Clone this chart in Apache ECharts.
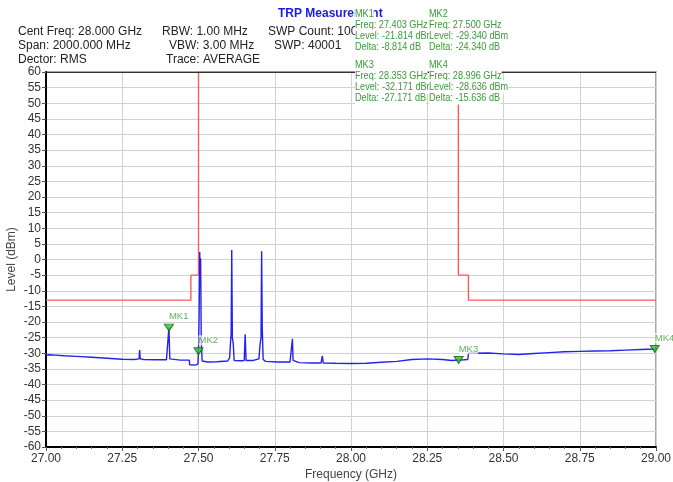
<!DOCTYPE html>
<html>
<head>
<meta charset="utf-8">
<script src="https://cdn.jsdelivr.net/npm/echarts@6/dist/echarts.min.js"></script>
<style>
  html, body { margin: 0; padding: 0; background: #fff; }
  #chart { width: 673px; height: 482px; }
</style>
</head>
<body>
<div id="chart"></div>
<script>
// Averaged spectrum trace (frequency in GHz, level in dBm)
const traceFreq = [
  27.000, 27.005, 27.010, 27.030, 27.060, 27.100, 27.150, 27.200, 27.250, 27.290,
  27.305, 27.307, 27.309, 27.320, 27.360, 27.395, 27.400, 27.403, 27.406, 27.410,
  27.440, 27.470, 27.471, 27.490, 27.498, 27.500, 27.502, 27.504, 27.506, 27.507,
  27.509, 27.512, 27.530, 27.560, 27.595, 27.602, 27.605, 27.607, 27.609, 27.611,
  27.614, 27.617, 27.640, 27.650, 27.653, 27.656, 27.680, 27.698, 27.702, 27.705,
  27.707, 27.709, 27.712, 27.720, 27.760, 27.800, 27.806, 27.808, 27.810, 27.830,
  27.870, 27.902, 27.906, 27.909, 27.950, 28.000, 28.050, 28.100, 28.150, 28.200,
  28.250, 28.300, 28.330, 28.353, 28.370, 28.383, 28.385, 28.400, 28.450, 28.500,
  28.550, 28.600, 28.650, 28.700, 28.750, 28.800, 28.850, 28.900, 28.950, 28.996,
  29.000
];
const traceLevel = [
  -30.6, -30.2, -30.5, -30.6, -30.8, -31.0, -31.3, -31.6, -31.9, -32.0,
  -31.8, -29.0, -31.8, -32.0, -32.1, -32.1, -31.5, -21.814, -31.8, -32.1,
  -32.2, -32.2, -33.7, -33.8, -33.5, -29.34, -18.0, 2.4, -8.0, 0.4,
  -26.0, -32.5, -32.8, -32.7, -32.5, -31.5, -26.5, -24.0, 3.0, -25.0,
  -27.0, -32.3, -32.4, -32.3, -23.9, -32.3, -32.3, -31.8, -27.0, -25.0,
  2.6, -22.0, -32.0, -32.6, -32.8, -32.8, -32.3, -25.4, -32.3, -33.0,
  -33.1, -33.1, -30.8, -33.1, -33.2, -33.3, -33.2, -32.9, -32.6, -32.0,
  -31.8, -32.0, -32.3, -32.171, -32.1, -32.0, -30.0, -30.0, -29.9, -30.2,
  -30.4, -30.1, -29.8, -29.5, -29.4, -29.3, -29.2, -29.0, -28.8, -28.636,
  -28.6
];

// Emission limit mask (GHz, dBm)
const limitFreq  = [27.000, 27.475, 27.475, 27.500, 27.500, 28.352, 28.352, 28.385, 28.385, 29.000];
const limitLevel = [-13, -13, -5, -5, 60, 60, -5, -5, -13, -13];

// Markers
const markerNames  = ['MK1', 'MK2', 'MK3', 'MK4'];
const markerFreqs  = [27.403, 27.500, 28.353, 28.996];
const markerLevels = [-21.814, -29.340, -32.171, -28.636];
const markerDeltas = [-8.814, -24.340, -27.171, -15.636];

// Instrument settings shown in the header
const settingLines = [
  'Cent Freq: 28.000 GHz', 'Span: 2000.000 MHz', 'Dector: RMS',
  'RBW: 1.00 MHz', 'VBW: 3.00 MHz', 'Trace: AVERAGE',
  'SWP Count: 100', 'SWP: 40001'
];

const chartTitle = 'TRP Measurement';
const xTitle = 'Frequency (GHz)';
const yTitle = 'Level (dBm)';

const FONT = '"Liberation Sans", Arial, sans-serif';
const chart = echarts.init(document.getElementById('chart'), null, { renderer: 'canvas' });

const zip = (a, b) => a.map((v, i) => [v, b[i]]);

// Plot frame
const PLOT = { left: 46, right: 656, top: 72, bottom: 447 };

// Header: settings in three columns
const settingPos = [
  [18, 32], [18, 46], [18, 60],
  [162, 32], [169, 46], [166, 60],
  [268, 32], [274, 46]
];
const graphics = [];
settingLines.forEach((t, i) => {
  graphics.push({
    type: 'text', x: settingPos[i][0], y: settingPos[i][1], z: 10,
    style: { text: t, font: '12px ' + FONT, fill: '#222', verticalAlign: 'middle' }
  });
});
graphics.push({
  type: 'text', x: 278, y: 14, z: 11,
  style: { text: chartTitle, font: 'bold 12px ' + FONT, fill: '#1a1ae6', verticalAlign: 'middle' }
});
// top edge of the plot frame, kept above the mask line
graphics.push({
  type: 'line', z: 15,
  shape: { x1: PLOT.left, y1: PLOT.top + 0.5, x2: PLOT.right, y2: PLOT.top + 0.5 },
  style: { stroke: '#333', lineWidth: 1.2 }
});

// Marker readout block (white-backed, horizontally condensed text over the plot)
const colX = [355, 429];
const groupY = [14, 65];
const lineStep = 11;
markerNames.forEach((name, i) => {
  const cx = colX[i % 2];
  const gy = groupY[Math.floor(i / 2)];
  const lines = [
    name,
    'Freq: ' + markerFreqs[i].toFixed(3) + ' GHz',
    'Level: ' + markerLevels[i].toFixed(3) + ' dBm',
    'Delta: ' + markerDeltas[i].toFixed(3) + ' dB'
  ];
  lines.forEach((t, k) => {
    graphics.push({
      type: 'text', x: cx, y: gy + k * lineStep, z: 20 + (i % 2),
      scaleX: 0.87,
      style: {
        text: t, font: '10.5px ' + FONT, fill: '#3a9b3a', verticalAlign: 'middle',
        backgroundColor: '#ffffff', padding: [1, 0, 1, 0]
      }
    });
  });
});

chart.setOption({
  animation: false,
  backgroundColor: '#ffffff',
  grid: {
    left: PLOT.left, right: 673 - PLOT.right, top: PLOT.top, bottom: 482 - PLOT.bottom,
    outerBoundsMode: 'none', containLabel: false,
    show: true, borderColor: '#8a8a8a', borderWidth: 1.5
  },
  xAxis: {
    type: 'value', min: 27, max: 29, interval: 0.25,
    name: xTitle, nameLocation: 'middle', nameGap: 22, nameMoveOverlap: false,
    nameTextStyle: { fontFamily: FONT, fontSize: 12, color: '#444' },
    axisLine: { show: true, onZero: false, lineStyle: { color: '#000', width: 2 } },
    axisTick: { show: true, length: 4, lineStyle: { color: '#555' } },
    minorTick: { show: true, splitNumber: 5, length: 2, lineStyle: { color: '#777' } },
    axisLabel: { fontFamily: FONT, fontSize: 12, color: '#333', margin: 6,
      formatter: v => v.toFixed(2) },
    splitLine: { show: true, lineStyle: { color: '#d2d2d2', width: 1 } }
  },
  yAxis: {
    type: 'value', min: -60, max: 60, interval: 5,
    name: yTitle, nameLocation: 'middle', nameGap: 28, nameRotate: 90, nameMoveOverlap: false,
    nameTextStyle: { fontFamily: FONT, fontSize: 12, color: '#444' },
    axisLine: { show: true, onZero: false, lineStyle: { color: '#000', width: 2 } },
    axisTick: { show: true, length: 4, lineStyle: { color: '#555' } },
    axisLabel: { fontFamily: FONT, fontSize: 12, color: '#333', margin: 5 },
    splitLine: { show: true, lineStyle: { color: '#d2d2d2', width: 1 } }
  },
  series: [
    {
      name: 'Limit', type: 'line', data: zip(limitFreq, limitLevel),
      showSymbol: false, z: 2,
      lineStyle: { color: '#ff5a5a', width: 1.4 }
    },
    {
      name: 'Trace', type: 'line', data: zip(traceFreq, traceLevel),
      showSymbol: false, z: 3,
      lineStyle: { color: '#2323ee', width: 1.4 }
    },
    {
      name: 'Markers', type: 'scatter', z: 5,
      data: markerNames.map((n, i) => ({ name: n, value: [markerFreqs[i], markerLevels[i]] })),
      symbol: 'triangle', symbolRotate: 180, symbolSize: [9, 7], symbolOffset: [0, 0],
      itemStyle: { color: '#1fcc1f', borderColor: '#1a5a1a', borderWidth: 1 },
      label: {
        show: true, formatter: p => p.name, position: 'top', align: 'left',
        offset: [0, 3], fontFamily: FONT, fontSize: 9.5, color: '#3a9b3a',
        backgroundColor: 'rgba(255,255,255,0.85)'
      }
    }
  ],
  graphic: graphics
});
</script>
</body>
</html>
